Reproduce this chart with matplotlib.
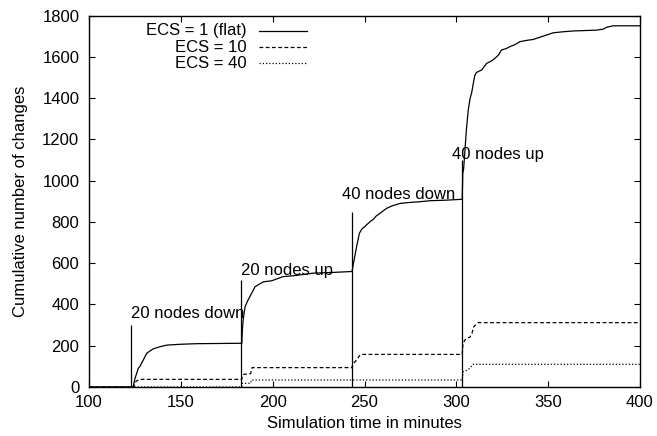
import matplotlib
matplotlib.use("Agg")
import matplotlib.pyplot as plt

# ECS = 1 (flat)
flat_t = [100, 124, 125, 126.8, 127.8, 129.5, 131.4, 133.2, 135, 138.6, 142.3, 149.5, 158.6, 183.2,
          183.5, 184, 185, 186.5, 188, 190.4, 193, 195, 199.5, 205.6, 212, 222, 232, 243.2,
          244, 245.7, 247.2, 248.5, 251, 253, 254.8, 256.5, 258.4, 262, 265, 269.3, 275, 280, 285.6, 295, 303.2,
          303.5, 304, 304.7, 305.5, 306.5, 307.5, 308.3, 309, 310.1, 311, 313.8, 316.5, 319, 321, 323, 324.6,
          327, 329.2, 332, 334.6, 338, 341.9, 347, 352.7, 358, 363.6, 370, 376.3, 380, 381.8, 385.4, 400]
flat_v = [0, 0, 40, 90, 101, 130, 163, 175, 185, 195, 203, 207, 210, 212,
          276, 330, 390, 420, 445, 486, 500, 510, 515, 535, 540, 552, 555, 560,
          600, 680, 745, 765, 785, 801, 813, 830, 842, 866, 878, 890, 895, 898, 903, 906, 910,
          1035, 1060, 1149, 1250, 1343, 1400, 1424, 1460, 1512, 1525, 1537, 1569, 1580, 1593, 1610, 1634,
          1640, 1650, 1660, 1674, 1680, 1685, 1700, 1717, 1722, 1726, 1728, 1730, 1735, 1744, 1751, 1751]

# ECS = 10
ecs10_t = [100, 124.5, 125, 126, 127.7, 183.2, 183.5, 184, 188, 188.8, 243.2, 243.6, 245.7, 247.5, 249,
           303.2, 303.6, 304.5, 305.5, 307.5, 308.5, 309.5, 311.8, 400]
ecs10_v = [0, 0, 20, 30, 37, 37, 55, 61, 65, 94, 94, 110, 131, 155, 158,
           158, 212, 225, 236, 242, 260, 292, 312, 312]

# ECS = 40
ecs40_t = [100, 183.2, 183.5, 188, 188.5, 303.2, 303.7, 305.5, 307.4, 309, 400]
ecs40_v = [0, 0, 18, 18, 34, 34, 74, 80, 91, 110, 110]

# topology events
event_t = [123, 183, 243, 303]
event_h = [300, 520, 850, 1100]
event_text = ["20 nodes down", "20 nodes up", "40 nodes down", "40 nodes up"]
text_x = [123, 183, 237.5, 297.7]
text_y = [358, 567, 935, 1129]

series = [
    ("ECS = 1 (flat)", flat_t, flat_v, "-"),
    ("ECS = 10", ecs10_t, ecs10_v, (0, (3, 2))),
    ("ECS = 40", ecs40_t, ecs40_v, (0, (1, 1.6))),
]

plt.rcParams["font.family"] = ["Liberation Sans", "DejaVu Sans"]
plt.rcParams["font.size"] = 12

fig = plt.figure(figsize=(6.57, 4.36), dpi=100)
ax = fig.add_axes([89 / 657, 1 - 387 / 436, 551 / 657, 371.3 / 436])

for label, t, v, ls in series:
    ax.plot(t, v, color="black", linestyle=ls, linewidth=0.9)

ax.vlines(event_t, 0, event_h, color="black", linewidth=0.9)
for x, y, s in zip(text_x, text_y, event_text):
    ax.text(x, y, s, ha="left", va="center")

# gnuplot style key: text right aligned, sample on the right
key_y = [0.9588, 0.9157, 0.8726]
for (label, t, v, ls), ky in zip(series, key_y):
    ax.text(0.2868, ky, label, transform=ax.transAxes, ha="right", va="center")
    ax.plot([0.3085, 0.3956], [ky, ky], transform=ax.transAxes, color="black",
            linestyle=ls, linewidth=0.9)

ax.set_xlim(100, 400)
ax.set_ylim(0, 1800)
ax.set_xticks(range(100, 401, 50))
ax.set_yticks(range(0, 1801, 200))
ax.tick_params(direction="in", top=True, right=True, length=4, width=0.8)
ax.tick_params(axis="y", pad=7)
ax.tick_params(axis="x", pad=6)
for sp in ax.spines.values():
    sp.set_linewidth(1.0)
ax.set_xlabel("Simulation time in minutes", labelpad=4)
ax.set_ylabel("Cumulative number of changes", labelpad=10)

fig.savefig("out.png", dpi=100)
